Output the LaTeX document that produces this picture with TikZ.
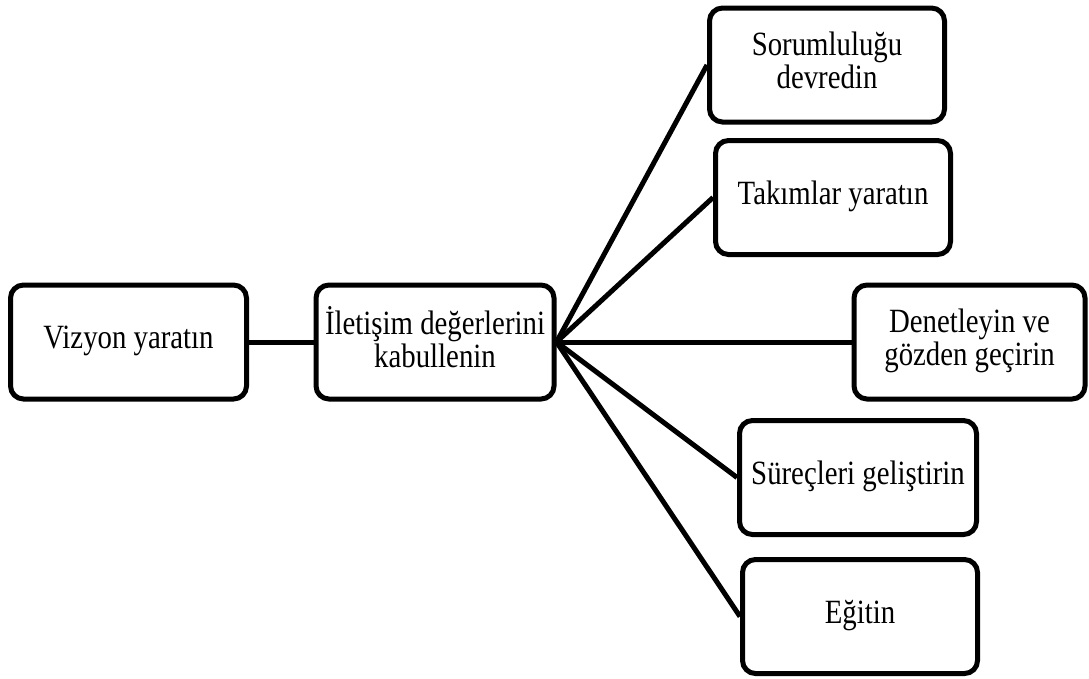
\documentclass[tikz,border=0pt]{standalone}
\usepackage{fontspec}
\usepackage{graphicx}
\setmainfont{Liberation Serif}
\newcommand{\lbl}[1]{\scalebox{1}[1.18]{\begin{tabular}{@{}c@{}}#1\end{tabular}}}
\begin{document}
\begin{tikzpicture}[x=1pt,y=-1pt,
  box/.style={draw=black,line width=5pt,rounded corners=13pt,inner sep=0pt,
    minimum height=114pt,align=center,font=\fontsize{28.8}{27.5}\selectfont},
  link/.style={line width=5pt}]
\useasboundingbox (0,0) rectangle (1089,678);
\node[box,minimum width=236pt] (viz) at (128.5,342) {\lbl{Vizyon yaratın}};
\node[box,minimum width=238pt] (ilet) at (435,342) {\lbl{İletişim değerlerini\\kabullenin}};
\node[box,minimum width=235pt] (sor) at (827,65) {\lbl{Sorumluluğu\\devredin}};
\node[box,minimum width=235pt] (tak) at (833,197.5) {\lbl{Takımlar yaratın}};
\node[box,minimum width=231pt] (den) at (969.5,342) {\lbl{Denetleyin ve\\gözden geçirin}};
\node[box,minimum width=237pt] (sur) at (858,477.5) {\lbl{Süreçleri geliştirin}};
\node[box,minimum width=235pt] (egi) at (860,616.5) {\lbl{Eğitin}};
\draw[link] (viz.east) -- (ilet.west);
\foreach \t in {sor,tak,den,sur,egi}
  \draw[link] (ilet.east) -- (\t.west);
\end{tikzpicture}
\end{document}
